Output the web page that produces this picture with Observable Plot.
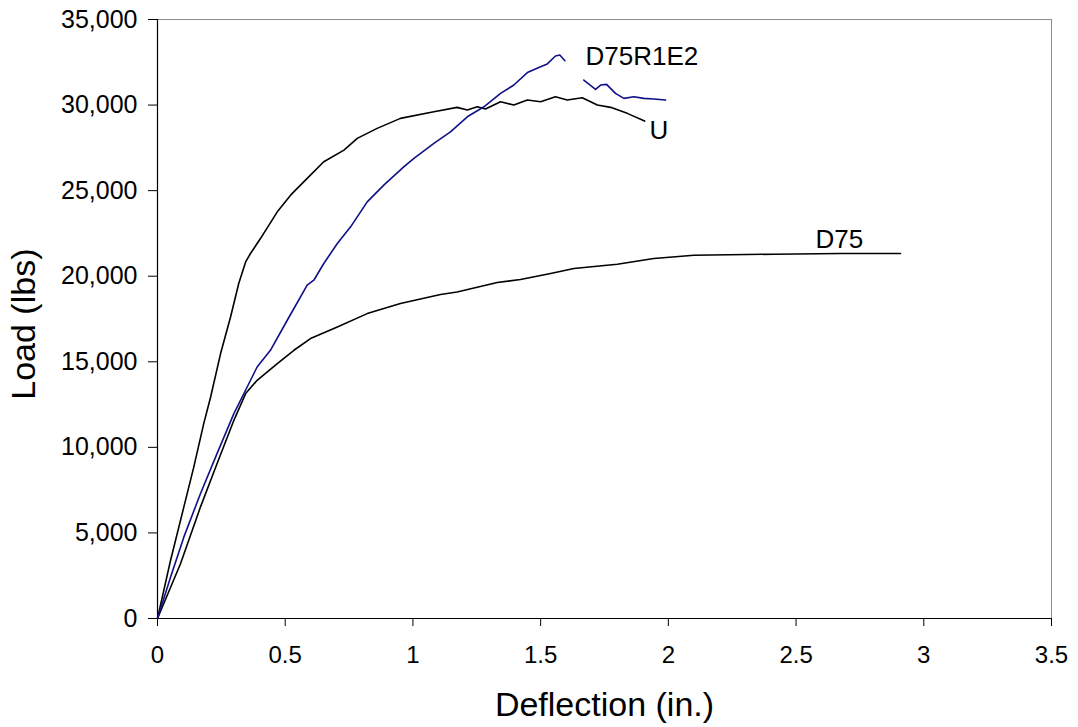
<!DOCTYPE html>
<html>
<head>
<meta charset="utf-8">
<script src="https://cdn.jsdelivr.net/npm/d3@7"></script>
<script src="https://cdn.jsdelivr.net/npm/@observablehq/plot@0.6"></script>
<style>
  html, body { margin: 0; padding: 0; background: #fff; }
  svg { display: block; }
</style>
</head>
<body>
<div id="chart"></div>
<script>
// ---- Data ----
const xTicks = [0, 0.5, 1, 1.5, 2, 2.5, 3, 3.5];
const yTicks = [0, 5000, 10000, 15000, 20000, 25000, 30000, 35000];

// U (black, steepest)
const uX = [0, 0.051, 0.103, 0.142, 0.181, 0.208, 0.247, 0.286, 0.318, 0.345, 0.364, 0.403, 0.469, 0.521, 0.586, 0.651, 0.730, 0.782, 0.860, 0.951, 1.082, 1.173, 1.213, 1.252, 1.284, 1.343, 1.395, 1.448, 1.500, 1.558, 1.604, 1.663, 1.722, 1.774, 1.839, 1.907];
const uY = [0, 3392, 6509, 8848, 11386, 12942, 15480, 17620, 19573, 20837, 21328, 22200, 23762, 24737, 25714, 26685, 27369, 28053, 28638, 29222, 29612, 29866, 29708, 29903, 29767, 30195, 30000, 30292, 30195, 30487, 30292, 30429, 30000, 29866, 29515, 29064];

// D75R1E2 (blue) — null marks the gap in the record
const rX = [0, 0.051, 0.103, 0.168, 0.233, 0.299, 0.351, 0.390, 0.442, 0.508, 0.586, 0.612, 0.651, 0.704, 0.756, 0.821, 0.886, 0.964, 1.004, 1.082, 1.147, 1.213, 1.278, 1.343, 1.395, 1.448, 1.500, 1.526, 1.558, 1.575, 1.595, 1.630, 1.669, 1.715, 1.735, 1.758, 1.793, 1.826, 1.865, 1.904, 1.943, 1.989];
const rY = [0, 2415, 4754, 7292, 9632, 11971, 13527, 14696, 15673, 17427, 19474, 19766, 20743, 21912, 22883, 24346, 25322, 26392, 26884, 27761, 28439, 29316, 29901, 30682, 31171, 31900, 32245, 32403, 32866, 32924, 32591, null, 31463, 30918, 31170, 31210, 30682, 30390, 30487, 30390, 30351, 30292];

// D75 (black, lowest)
const dX = [0, 0.090, 0.168, 0.233, 0.299, 0.345, 0.390, 0.469, 0.534, 0.599, 0.704, 0.821, 0.951, 1.108, 1.173, 1.330, 1.421, 1.539, 1.630, 1.800, 1.943, 2.100, 2.413, 2.674, 2.909];
const dY = [0, 3199, 6509, 9047, 11579, 13141, 13918, 14893, 15673, 16357, 17035, 17815, 18403, 18930, 19082, 19632, 19807, 20158, 20451, 20702, 21035, 21228, 21287, 21328, 21328];

// Series labels (data coordinates)
const labelText = ["D75R1E2", "U", "D75"];
const labelX = [1.676, 1.926, 2.576];
const labelY = [32848, 28491, 22164];

const xTitle = "Deflection (in.)";
const yTitle = "Load (lbs)";

// ---- Build tables ----
const zip = (xs, ys) => xs.map((x, i) => ({x, y: ys[i]}));
const uData = zip(uX, uY);
const rData = zip(rX, rY);
const dData = zip(dX, dY);
const labels = labelText.map((t, i) => ({t, x: labelX[i], y: labelY[i]}));

const font = "Arial, 'Liberation Sans', sans-serif";

const chart = Plot.plot({
  width: 1078,
  height: 727,
  marginLeft: 157,
  marginRight: 27,
  marginTop: 19,
  marginBottom: 109,
  style: {fontFamily: font, background: "#fff", overflow: "visible"},
  x: {domain: [0, 3.5]},
  y: {domain: [0, 35000]},
  marks: [
    Plot.frame({stroke: "#8c8c8c"}),
    Plot.ruleX([0], {stroke: "#000", strokeWidth: 1.2}),
    Plot.ruleY([0], {stroke: "#000", strokeWidth: 1.2}),
    Plot.axisX({ticks: xTicks, tickFormat: d => String(d), tickSize: 8, tickPadding: 19, fontSize: 24, label: null, stroke: "#000", color: "#000"}),
    Plot.axisY({ticks: yTicks, tickFormat: d3.format(","), tickSize: 9, tickPadding: 11, fontSize: 25, label: null, stroke: "#000", color: "#000"}),
    Plot.line(dData, {x: "x", y: "y", stroke: "#000", strokeWidth: 1.6, curve: "linear"}),
    Plot.line(uData, {x: "x", y: "y", stroke: "#000", strokeWidth: 1.6, curve: "linear"}),
    Plot.line(rData, {x: "x", y: "y", stroke: "#101088", strokeWidth: 1.6, curve: "linear"}),
    Plot.text(labels, {x: "x", y: "y", text: "t", textAnchor: "start", lineAnchor: "middle", fontSize: 26, fill: "#000"}),
    Plot.text([xTitle], {frameAnchor: "bottom", dy: 87, lineAnchor: "middle", fontSize: 34, fill: "#000"}),
    Plot.text([{t: yTitle, y: 17200}], {y: "y", text: "t", frameAnchor: "left", dx: -133, rotate: -90, textAnchor: "middle", lineAnchor: "middle", fontSize: 34, fill: "#000"})
  ]
});

document.getElementById("chart").appendChild(chart);
</script>
</body>
</html>
